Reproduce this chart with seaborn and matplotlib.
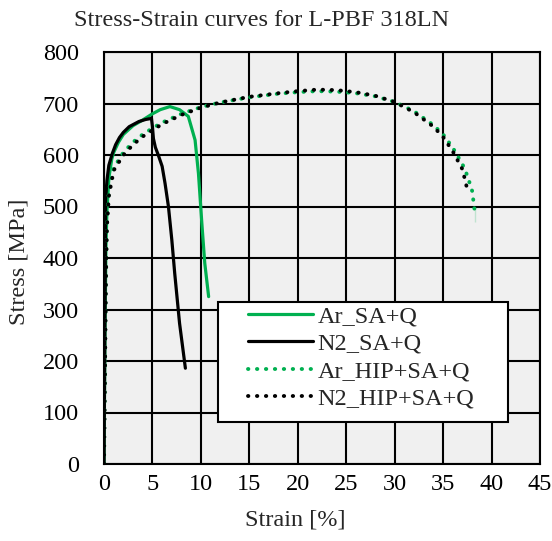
import pandas as pd
import seaborn as sns
import matplotlib.pyplot as plt
from matplotlib.patches import Rectangle

# strain [%] / stress [MPa]
ar_sa_strain = [0, 0.1, 0.2, 0.3, 0.5, 0.8, 1, 1.5, 2, 3, 4, 5, 5.8, 6.8, 7.8, 8.7, 9.4, 9.75, 10.1, 10.4, 10.8]
ar_sa_stress = [0, 250, 420, 490, 555, 592, 605, 625, 640, 657, 668, 680, 688, 694, 688, 675, 629, 564, 467, 390, 325]

n2_sa_strain = [0, 0.1, 0.17, 0.3, 0.5, 0.86, 1.2, 1.6, 2.0, 2.6, 3.6, 4.3, 4.9, 5.0, 5.1, 5.3, 5.6, 6.0, 6.3, 6.65, 7.0, 7.3, 7.8, 8.4]
n2_sa_stress = [0, 300, 513, 550, 580, 603, 620, 634, 644, 655, 665, 669, 671, 655, 632, 615, 600, 578, 545, 500, 435, 370, 273, 186]

ar_hip_strain = [0, 0.1, 0.2, 0.3, 0.5, 1, 2, 3, 4, 5, 6, 8, 10, 12, 15, 18, 20, 22, 24, 26, 28, 30, 32, 34, 35, 36, 37, 37.5, 38, 38.3, 38.3]
ar_hip_stress = [0, 200, 380, 470, 530, 575, 605, 625, 640, 652, 663, 680, 693, 702, 712, 719, 722, 724, 723, 720, 714, 703, 685, 658, 640, 614, 582, 560, 530, 500, 470]

n2_hip_strain = [0, 0.1, 0.2, 0.3, 0.5, 1, 2, 3, 4, 5, 6, 8, 10, 12, 15, 18, 20, 22, 24, 26, 28, 30, 32, 34, 35, 36, 37, 37.6]
n2_hip_stress = [0, 180, 360, 460, 520, 570, 600, 620, 636, 648, 660, 678, 692, 702, 713, 720, 724, 727, 726, 722, 715, 703, 683, 655, 635, 607, 572, 525]

labels = ["Ar_SA+Q", "N2_SA+Q", "Ar_HIP+SA+Q", "N2_HIP+SA+Q"]
x_ticks = list(range(0, 50, 5))
y_ticks = list(range(0, 900, 100))

green = "#00b050"
fs = 17.5

sns.set_style("white", rc={"axes.facecolor": "#f0f0f0"})
plt.rcParams["font.family"] = ["Liberation Serif", "DejaVu Serif"]

fig = plt.figure(figsize=(5.52, 5.41), dpi=100)
ax = fig.add_axes([104 / 552, 1 - 464 / 541, 436 / 552, 412 / 541])

series = [
    (ar_sa_strain, ar_sa_stress, green, "-"),
    (n2_sa_strain, n2_sa_stress, "black", "-"),
    (ar_hip_strain, ar_hip_stress, green, (0, (0.1, 2.2))),
    (n2_hip_strain, n2_hip_stress, "black", (0, (0.1, 2.2))),
]
for (xs, ys, col, ls), lab in zip(series, labels):
    df = pd.DataFrame({"strain": xs, "stress": ys})
    sns.lineplot(data=df, x="strain", y="stress", ax=ax, color=col,
                 sort=False, label=lab, linewidth=2.3 if ls == "-" else 2.8)
    line = ax.get_lines()[-1]
    line.set_linestyle(ls)
    if ls != "-":
        line.set_dash_capstyle("round")

ax.set_xlim(0, 45)
ax.set_ylim(0, 800)
ax.set_xticks(x_ticks)
ax.set_yticks(y_ticks)
ax.grid(True, color="black", linewidth=1.5)
ax.set_axisbelow(True)
for s in ax.spines.values():
    s.set_color("black")
    s.set_linewidth(1.5)
ax.tick_params(axis="both", length=0, labelsize=fs, colors="black")
ax.tick_params(axis="y", pad=18)
ax.tick_params(axis="x", pad=7)

ax.set_xlabel("Strain [%]", fontsize=fs)
ax.set_ylabel("Stress [MPa]", fontsize=fs)
ax.xaxis.set_label_coords(0.438, -0.11)
ax.yaxis.set_label_coords(-0.17, 0.49)
fig.text(262 / 552, 1 - 20 / 541, "Stress-Strain curves for L-PBF 318LN",
         fontsize=fs, ha="center", va="center")

# legend box (wider than matplotlib's own frame, as in the reference)
ax.add_patch(Rectangle((0.2615, 0.102), 0.665, 0.291, transform=ax.transAxes,
                       facecolor="white", edgecolor="black", linewidth=1.5,
                       zorder=4.5))
leg = ax.legend(loc="upper left", bbox_to_anchor=(0.33, 0.385), fontsize=fs,
                frameon=False, handlelength=2.67,
                handletextpad=0.2, labelspacing=0.22, borderpad=0,
                borderaxespad=0)
leg.set_zorder(5)

fig.savefig("out.png", dpi=100)
